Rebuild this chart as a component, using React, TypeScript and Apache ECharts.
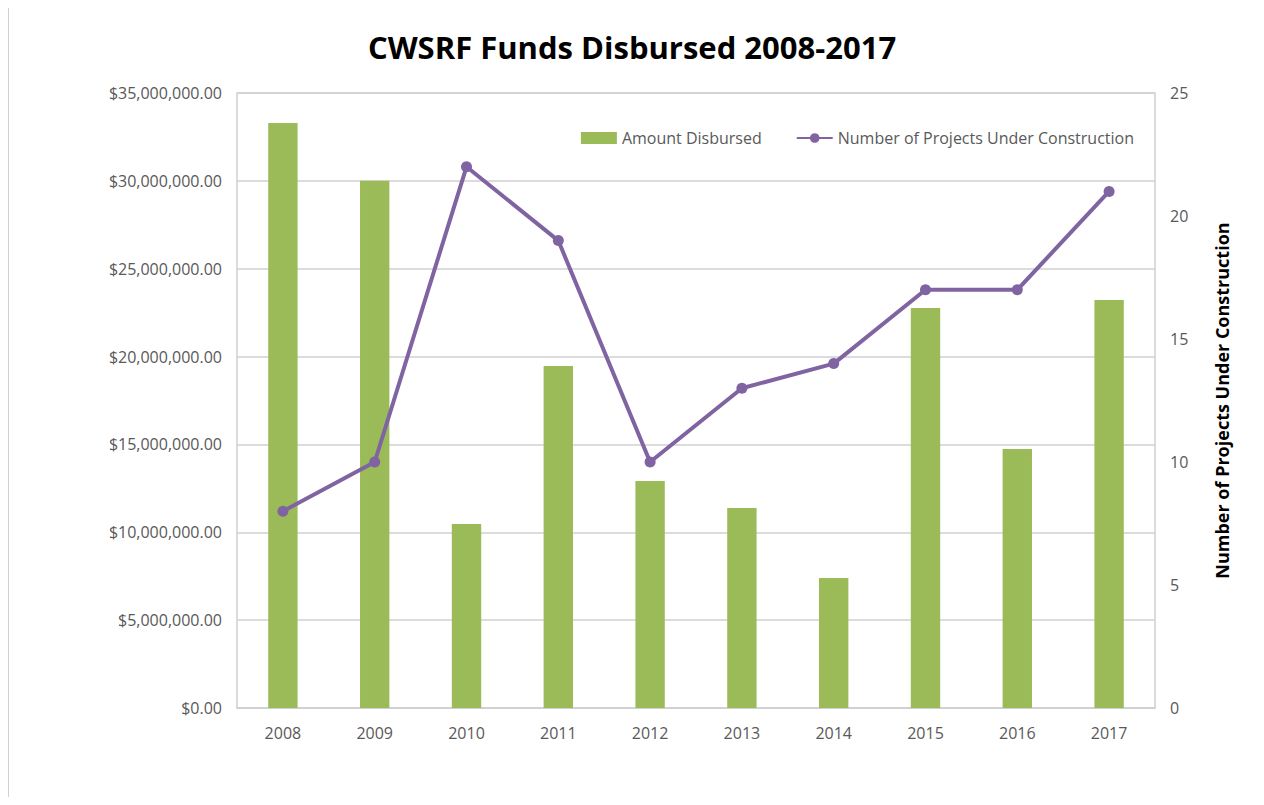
import React, { useEffect, useRef } from "react";
import * as echarts from "echarts";

const years = ["2008", "2009", "2010", "2011", "2012", "2013", "2014", "2015", "2016", "2017"];
const amountDisbursed = [33290000, 30000000, 10470000, 19460000, 12920000, 11380000, 7400000, 22760000, 14740000, 23220000];
const projectsUnderConstruction = [8, 10, 22, 19, 10, 13, 14, 17, 17, 21];

const FONT = "'Open Sans', 'Noto Sans', sans-serif";
const LABEL = "#595959";

function fmtMoney(v: number) {
  return "$" + v.toLocaleString("en-US", { minimumFractionDigits: 2, maximumFractionDigits: 2 });
}

export default function App() {
  const ref = useRef<HTMLDivElement>(null);
  useEffect(() => {
    const chart = echarts.init(ref.current!, null, { renderer: "svg" });
    chart.setOption({
      animation: false,
      backgroundColor: "#fff",
      textStyle: { fontFamily: FONT },
      title: {
        text: "CWSRF Funds Disbursed 2008-2017",
        left: "center",
        top: 26,
        textStyle: { fontFamily: FONT, fontSize: 31, fontWeight: "bold", color: "#000" },
      },
      graphic: {
        elements: [
          {
            type: "rect",
            left: 6,
            top: 4,
            shape: { width: 1300, height: 900 },
            style: { fill: "transparent", stroke: "#d0d0d0", lineWidth: 3 },
            silent: true,
            z: 100,
          },
          {
            type: "rect",
            shape: { x: 237, y: 93, width: 918, height: 615 },
            style: { fill: "none", stroke: "#d0d0d0", lineWidth: 1.5 },
            silent: true,
            z: 0,
          },
        ],
      },
      legend: {
        right: 125,
        top: 125,
        itemGap: 34,
        itemWidth: 36,
        itemHeight: 12,
        textStyle: { fontFamily: FONT, fontSize: 16, color: LABEL },
        data: [
          { name: "Amount Disbursed", icon: "rect" },
          { name: "Number of Projects Under Construction" },
        ],
      },
      grid: { left: 237, right: 109, top: 93, bottom: 97 },
      xAxis: {
        type: "category",
        data: years,
        axisTick: { show: false },
        axisLine: { lineStyle: { color: "#d0d0d0", width: 1.5 } },
        axisLabel: { color: LABEL, fontSize: 16, margin: 17, fontFamily: FONT },
      },
      yAxis: [
        {
          type: "value",
          min: 0,
          max: 35000000,
          interval: 5000000,
          axisLabel: { color: LABEL, fontSize: 16, margin: 15, fontFamily: FONT, formatter: fmtMoney },
          splitLine: { lineStyle: { color: "#d0d0d0", width: 1.5 } },
          axisLine: { show: false },
        },
        {
          type: "value",
          min: 0,
          max: 25,
          interval: 5,
          name: "Number of Projects Under Construction",
          nameLocation: "middle",
          nameGap: 58,
          nameRotate: 90,
          nameTextStyle: { fontFamily: FONT, fontSize: 18, fontWeight: "bold", color: "#000" },
          axisLabel: { color: LABEL, fontSize: 16, margin: 15, fontFamily: FONT },
          splitLine: { show: false },
          axisLine: { show: false },
        },
      ],
      series: [
        {
          name: "Amount Disbursed",
          type: "bar",
          data: amountDisbursed,
          barWidth: "32%",
          itemStyle: { color: "#9bbb59" },
          yAxisIndex: 0,
        },
        {
          name: "Number of Projects Under Construction",
          type: "line",
          data: projectsUnderConstruction,
          yAxisIndex: 1,
          symbol: "circle",
          symbolSize: 11,
          lineStyle: { color: "#8064a2", width: 4 },
          itemStyle: { color: "#8064a2" },
        },
      ],
    });
    return () => chart.dispose();
  }, []);
  return <div ref={ref} style={{ width: 1264, height: 805, margin: -8 }} />;
}
